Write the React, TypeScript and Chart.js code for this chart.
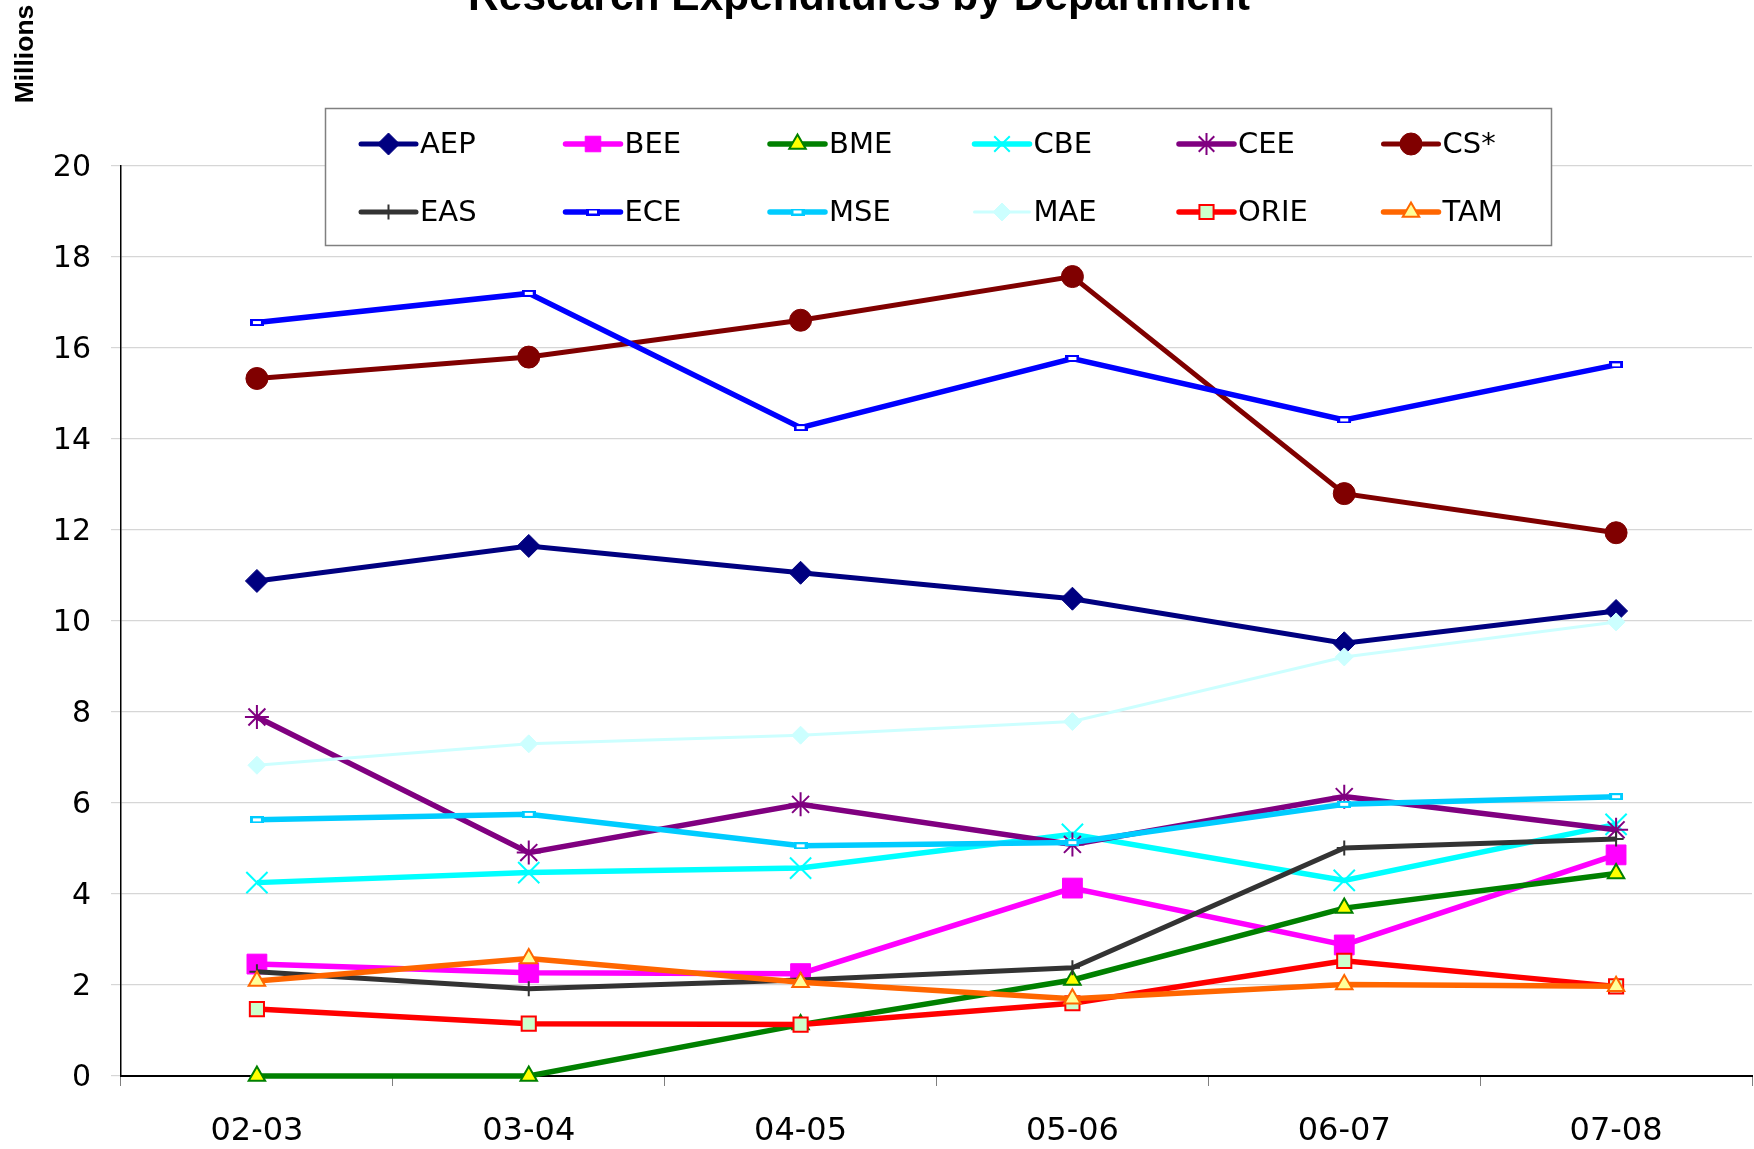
import React, { useEffect, useRef } from 'react';
import { Chart, registerables } from 'chart.js';
import { drawPoint } from 'chart.js/helpers';

Chart.register(...registerables);

const categories = ['02-03', '03-04', '04-05', '05-06', '06-07', '07-08'];
const yMin = 0;
const yMax = 20;
const yStep = 2;

const AEP = [10.88, 11.65, 11.06, 10.49, 9.51, 10.22];
const BEE = [2.46, 2.27, 2.25, 4.13, 2.88, 4.86];
const BME = [0, 0, 1.13, 2.11, 3.69, 4.45];
const CBE = [4.25, 4.47, 4.57, 5.31, 4.3, 5.53];
const CEE = [7.89, 4.91, 5.97, 5.09, 6.14, 5.41];
const CS = [15.33, 15.8, 16.61, 17.57, 12.8, 11.94];
const EAS = [2.29, 1.92, 2.11, 2.38, 5.01, 5.21];
const ECE = [16.56, 17.2, 14.25, 15.77, 14.42, 15.63];
const MSE = [5.63, 5.75, 5.06, 5.13, 5.97, 6.14];
const MAE = [6.83, 7.3, 7.49, 7.79, 9.21, 9.98];
const ORIE = [1.47, 1.15, 1.13, 1.6, 2.53, 1.97];
const TAM = [2.09, 2.58, 2.06, 1.7, 2.01, 1.97];

const seriesNames = ['AEP', 'BEE', 'BME', 'CBE', 'CEE', 'CS*', 'EAS', 'ECE', 'MSE', 'MAE', 'ORIE', 'TAM'];
const seriesValues = [AEP, BEE, BME, CBE, CEE, CS, EAS, ECE, MSE, MAE, ORIE, TAM];

const TITLE = 'Research Expenditures by Department';
const Y_TITLE = 'Millions';

function dashMarker(color: string): HTMLCanvasElement {
  const c = document.createElement('canvas');
  c.width = 14;
  c.height = 7;
  const g = c.getContext('2d')!;
  g.fillStyle = color;
  g.fillRect(0, 0, 14, 7);
  g.fillStyle = '#ffffff';
  g.fillRect(3, 2, 8, 3);
  return c;
}

type Style = {
  color: string;
  width: number;
  point: any;
  radius: number;
  fill: string;
  stroke: string;
  pbw: number;
};

function makeStyles(): Style[] {
  return [
    { color: '#000080', width: 5, point: 'rectRot', radius: 11.5, fill: '#000080', stroke: '#000080', pbw: 1 },
    { color: '#ff00ff', width: 5.5, point: 'rect', radius: 14, fill: '#ff00ff', stroke: '#ff00ff', pbw: 1 },
    { color: '#008000', width: 5.5, point: 'triangle', radius: 9.5, fill: '#ffff00', stroke: '#008000', pbw: 2 },
    { color: '#00ffff', width: 5.5, point: 'crossRot', radius: 15, fill: '#00ffff', stroke: '#00ffff', pbw: 2 },
    { color: '#800080', width: 5.5, point: 'star', radius: 12, fill: '#800080', stroke: '#800080', pbw: 2 },
    { color: '#800000', width: 5, point: 'circle', radius: 11, fill: '#800000', stroke: '#800000', pbw: 1 },
    { color: '#333333', width: 5, point: 'cross', radius: 7.5, fill: '#333333', stroke: '#333333', pbw: 2 },
    { color: '#0000ff', width: 5.5, point: dashMarker('#0000ff'), radius: 7, fill: '#0000ff', stroke: '#0000ff', pbw: 1 },
    { color: '#00ccff', width: 5.5, point: dashMarker('#00ccff'), radius: 7, fill: '#00ccff', stroke: '#00ccff', pbw: 1 },
    { color: '#ccffff', width: 3, point: 'rectRot', radius: 9, fill: '#ccffff', stroke: '#ccffff', pbw: 1 },
    { color: '#ff0000', width: 5.5, point: 'rect', radius: 10, fill: '#ccffcc', stroke: '#ff0000', pbw: 2 },
    { color: '#ff6600', width: 5.5, point: 'triangle', radius: 9.5, fill: '#ffff99', stroke: '#ff6600', pbw: 2 },
  ];
}

const boxLegend = {
  id: 'boxLegend',
  afterDraw(chart: any) {
    const ctx = chart.ctx as CanvasRenderingContext2D;
    ctx.save();
    // title (clipped at top, as in the reference)
    ctx.fillStyle = '#000';
    ctx.font = 'bold 42.5px "Liberation Sans", Arial, sans-serif';
    ctx.textAlign = 'center';
    ctx.textBaseline = 'alphabetic';
    ctx.fillText(TITLE, 859, 10);
    // y-axis unit label
    ctx.save();
    ctx.translate(33, 54);
    ctx.rotate(-Math.PI / 2);
    ctx.font = 'bold 26.5px "Liberation Sans", Arial, sans-serif';
    ctx.fillText(Y_TITLE, 0, 0);
    ctx.restore();

    // legend box
    const bx = 325.5, by = 108.5, bw = 1226, bh = 137;
    ctx.fillStyle = '#ffffff';
    ctx.fillRect(bx, by, bw, bh);
    ctx.strokeStyle = '#808080';
    ctx.lineWidth = 1.5;
    ctx.strokeRect(bx, by, bw, bh);

    chart.data.datasets.forEach((ds: any, i: number) => {
      const col = i % 6;
      const row = Math.floor(i / 6);
      const x0 = 361 + col * 204.5;
      const y = 144 + row * 68;
      ctx.strokeStyle = ds.borderColor;
      ctx.lineWidth = ds.borderWidth;
      ctx.lineCap = 'round';
      ctx.beginPath();
      ctx.moveTo(x0, y);
      ctx.lineTo(x0 + 55, y);
      ctx.stroke();
      ctx.lineCap = 'butt';
      ctx.fillStyle = ds.pointBackgroundColor;
      ctx.strokeStyle = ds.pointBorderColor;
      ctx.lineWidth = ds.pointBorderWidth;
      drawPoint(ctx, {
        pointStyle: ds.pointStyle,
        radius: Math.min(ds.pointRadius, 11),
        rotation: 0,
        borderWidth: ds.pointBorderWidth,
      } as any, x0 + 27.5, y);
      ctx.fillStyle = '#000';
      ctx.font = '29px "DejaVu Sans", Verdana, sans-serif';
      ctx.textAlign = 'left';
      ctx.textBaseline = 'middle';
      ctx.fillText(ds.label, x0 + 59, y + 1);
    });
    ctx.restore();
  },
};

export default function App() {
  const ref = useRef<HTMLCanvasElement | null>(null);

  useEffect(() => {
    if (!ref.current) return;
    const styles = makeStyles();
    const datasets = seriesNames.map((name, i) => {
      const s = styles[i];
      return {
        label: name,
        data: seriesValues[i],
        borderColor: s.color,
        backgroundColor: s.color,
        borderWidth: s.width,
        pointStyle: s.point,
        pointRadius: s.radius,
        pointHoverRadius: s.radius,
        pointBackgroundColor: s.fill,
        pointBorderColor: s.stroke,
        pointBorderWidth: s.pbw,
        tension: 0,
        fill: false,
        clip: false as any,
        order: 20 - i,
      };
    });

    const chart = new Chart(ref.current, {
      type: 'line',
      data: { labels: categories, datasets },
      options: {
        responsive: false,
        maintainAspectRatio: false,
        animation: false,
        devicePixelRatio: 1,
        layout: { autoPadding: false, padding: { top: 166, right: 2, left: 1, bottom: 0 } },
        plugins: {
          legend: { display: false },
          title: { display: false },
          tooltip: { enabled: false },
        },
        scales: {
          x: {
            offset: true,
            grid: {
              offset: true,
              drawOnChartArea: false,
              drawTicks: true,
              tickLength: 10,
              color: '#808080',
              lineWidth: 1,
            },
            border: { color: '#000000', width: 2 },
            ticks: {
              font: { family: '"DejaVu Sans", Verdana, sans-serif', size: 32 },
              color: '#000000',
              padding: 26,
              maxRotation: 0,
              autoSkip: false,
            },
            afterFit: (s: any) => {
              s.height = 73;
              s.paddingLeft = 0;
              s.paddingRight = 0;
            },
          },
          y: {
            min: yMin,
            max: yMax,
            ticks: {
              stepSize: yStep,
              font: { family: '"DejaVu Sans", Verdana, sans-serif', size: 30 },
              color: '#000000',
              padding: 20,
              labelOffset: 2,
            },
            grid: {
              color: '#d6d6d6',
              lineWidth: 1.2,
              tickLength: 10,
            },
            border: { color: '#000000', width: 1.5 },
            afterFit: (s: any) => {
              s.width = 120;
              s.paddingTop = 0;
              s.paddingBottom = 0;
            },
          },
        },
      },
      plugins: [boxLegend],
    });
    return () => chart.destroy();
  }, []);

  return (
    <canvas
      ref={ref}
      width={1754}
      height={1149}
      style={{ position: 'absolute', left: 0, top: 0, display: 'block' }}
    />
  );
}
